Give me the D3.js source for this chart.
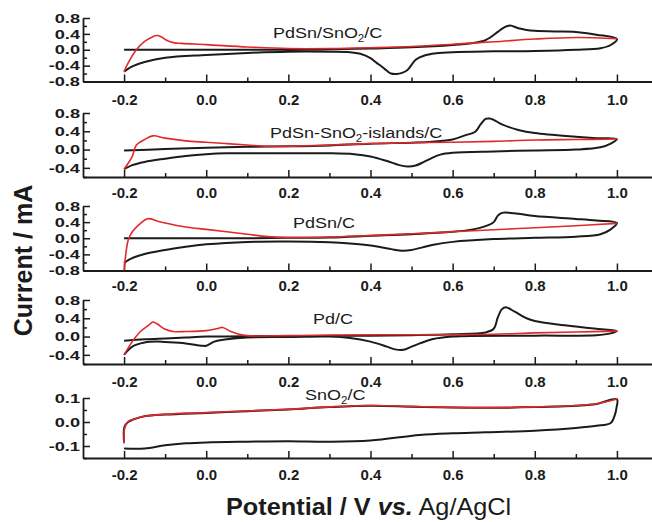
<!DOCTYPE html>
<html>
<head>
<meta charset="utf-8">
<script src="https://cdn.jsdelivr.net/npm/d3@7"></script>
<style>
  body { margin: 0; background: #fff; }
  svg { display: block; }
  text { font-family: "Liberation Sans", Arial, sans-serif; }
</style>
</head>
<body>
<svg id="chart" width="652" height="522"></svg>
<script>
// ---- data (potential V, current mA) ----
const xTicks = [-0.2, 0.0, 0.2, 0.4, 0.6, 0.8, 1.0];
const xMinorTicks = [-0.1, 0.1, 0.3, 0.5, 0.7, 0.9];

const panelLabels = [
  ["PdSn/SnO", "2", "/C"],
  ["PdSn-SnO", "2", "-islands/C"],
  ["PdSn/C"],
  ["Pd/C"],
  ["SnO", "2", "/C"]
];
const yDomains = [[-0.8, 0.8], [-0.6, 0.8], [-0.8, 0.8], [-0.6, 0.8], [-0.15, 0.1]];
const yMajorTicks = [
  [-0.8, -0.4, 0, 0.4, 0.8],
  [-0.4, 0, 0.4, 0.8],
  [-0.8, -0.4, 0, 0.4, 0.8],
  [-0.4, 0, 0.4, 0.8],
  [-0.1, 0, 0.1]
];
const yMinorTicks = [
  [-0.6, -0.2, 0.2, 0.6],
  [-0.6, -0.2, 0.2, 0.6],
  [-0.6, -0.2, 0.2, 0.6],
  [-0.6, -0.2, 0.2, 0.6],
  [-0.15, -0.05, 0.05]
];

const pdsnSno2Black = [
  [-0.2, 0.0], [-0.1, 0.0], [0.0, 0.0], [0.1, 0.0], [0.2, 0.0], [0.3, 0.01], [0.4, 0.03], [0.5, 0.06],
  [0.6, 0.12], [0.65, 0.17], [0.675, 0.22], [0.69, 0.3], [0.71, 0.45], [0.725, 0.56], [0.74, 0.61],
  [0.76, 0.54], [0.78, 0.5], [0.8, 0.48], [0.85, 0.46], [0.9, 0.45], [0.95, 0.38], [1.0, 0.27],
  [0.985, 0.12], [0.96, 0.04], [0.9, 0.0], [0.8, -0.03], [0.7, -0.04], [0.6, -0.06], [0.56, -0.09],
  [0.53, -0.15], [0.51, -0.25], [0.5, -0.38], [0.49, -0.51], [0.475, -0.59], [0.464, -0.61], [0.45, -0.6],
  [0.44, -0.53], [0.427, -0.42], [0.415, -0.33], [0.4, -0.21], [0.375, -0.1], [0.35, -0.06], [0.3, -0.05],
  [0.2, -0.05], [0.1, -0.08], [0.0, -0.13], [-0.1, -0.2], [-0.15, -0.31], [-0.18, -0.42], [-0.2, -0.55]
];
const pdsnSno2Red = [
  [-0.2, -0.55], [-0.19, -0.33], [-0.17, 0.0], [-0.15, 0.21], [-0.13, 0.33], [-0.12, 0.36], [-0.11, 0.33],
  [-0.1, 0.26], [-0.08, 0.18], [-0.06, 0.16], [0.0, 0.13], [0.1, 0.07], [0.2, 0.03], [0.3, 0.03],
  [0.4, 0.05], [0.5, 0.08], [0.6, 0.14], [0.7, 0.2], [0.8, 0.27], [0.9, 0.31], [1.0, 0.28]
];

const islandsBlack = [
  [-0.2, -0.02], [-0.1, 0.01], [0.0, 0.04], [0.1, 0.06], [0.2, 0.07], [0.3, 0.09], [0.4, 0.13], [0.5, 0.15],
  [0.55, 0.17], [0.6, 0.22], [0.63, 0.31], [0.655, 0.39], [0.668, 0.55], [0.68, 0.67], [0.69, 0.68],
  [0.7, 0.65], [0.72, 0.55], [0.76, 0.43], [0.8, 0.36], [0.9, 0.28], [0.95, 0.25], [1.0, 0.23],
  [0.985, 0.13], [0.96, 0.05], [0.9, 0.0], [0.8, -0.02], [0.7, -0.04], [0.6, -0.07], [0.57, -0.11],
  [0.55, -0.18], [0.53, -0.27], [0.51, -0.35], [0.49, -0.37], [0.47, -0.34], [0.44, -0.25], [0.4, -0.15],
  [0.36, -0.1], [0.3, -0.08], [0.2, -0.08], [0.1, -0.08], [0.05, -0.08], [0.0, -0.1], [-0.05, -0.14],
  [-0.1, -0.2], [-0.15, -0.27], [-0.18, -0.34], [-0.2, -0.43]
];
const islandsRed = [
  [-0.2, -0.43], [-0.19, -0.3], [-0.18, -0.15], [-0.17, 0.1], [-0.15, 0.22], [-0.13, 0.3], [-0.1, 0.25],
  [-0.05, 0.19], [0.0, 0.16], [0.05, 0.13], [0.1, 0.1], [0.15, 0.07], [0.2, 0.07], [0.3, 0.1], [0.4, 0.13],
  [0.5, 0.15], [0.6, 0.16], [0.7, 0.18], [0.8, 0.21], [0.9, 0.22], [1.0, 0.23]
];

const pdsnBlack = [
  [-0.2, 0.0], [-0.1, 0.0], [0.0, 0.0], [0.1, 0.0], [0.2, 0.01], [0.3, 0.02], [0.4, 0.06], [0.5, 0.1],
  [0.6, 0.16], [0.65, 0.22], [0.68, 0.3], [0.7, 0.4], [0.71, 0.56], [0.72, 0.63], [0.75, 0.62], [0.8, 0.55],
  [0.9, 0.48], [0.95, 0.44], [1.0, 0.38],
  [0.985, 0.22], [0.96, 0.1], [0.9, 0.04], [0.8, 0.01], [0.7, -0.02], [0.6, -0.09], [0.55, -0.17],
  [0.5, -0.29], [0.48, -0.31], [0.45, -0.27], [0.4, -0.18], [0.35, -0.13], [0.3, -0.1], [0.2, -0.08],
  [0.1, -0.09], [0.0, -0.15], [-0.05, -0.21], [-0.1, -0.29], [-0.15, -0.39], [-0.19, -0.54], [-0.2, -0.62]
];
const pdsnRed = [
  [-0.2, -0.8], [-0.197, -0.5], [-0.194, -0.25], [-0.19, -0.05], [-0.18, 0.16], [-0.16, 0.37],
  [-0.145, 0.48], [-0.135, 0.48], [-0.12, 0.43], [-0.1, 0.38], [-0.05, 0.28], [0.0, 0.22], [0.05, 0.16],
  [0.1, 0.1], [0.15, 0.04], [0.2, 0.02], [0.3, 0.03], [0.4, 0.07], [0.5, 0.11], [0.6, 0.16], [0.7, 0.21],
  [0.8, 0.26], [0.9, 0.31], [1.0, 0.37]
];

const pdBlack = [
  [-0.2, -0.09], [-0.15, -0.06], [-0.1, -0.04], [-0.05, -0.02], [0.0, 0.0], [0.1, 0.01], [0.2, 0.01],
  [0.3, 0.01], [0.4, 0.02], [0.5, 0.03], [0.6, 0.05], [0.68, 0.09], [0.7, 0.17], [0.71, 0.42], [0.72, 0.6],
  [0.73, 0.64], [0.75, 0.55], [0.78, 0.4], [0.8, 0.34], [0.85, 0.27], [0.9, 0.22], [0.95, 0.17], [1.0, 0.12],
  [0.985, 0.07], [0.95, 0.03], [0.8, 0.02], [0.6, 0.0], [0.55, -0.06], [0.52, -0.15], [0.5, -0.22],
  [0.48, -0.29], [0.46, -0.28], [0.44, -0.22], [0.4, -0.11], [0.35, -0.03], [0.3, 0.0], [0.2, -0.01],
  [0.1, -0.02], [0.05, -0.06], [0.02, -0.11], [0.0, -0.2], [-0.01, -0.2], [-0.05, -0.15], [-0.1, -0.12],
  [-0.12, -0.11], [-0.15, -0.13], [-0.18, -0.22], [-0.2, -0.4]
];
const pdRed = [
  [-0.2, -0.4], [-0.18, -0.11], [-0.16, 0.11], [-0.14, 0.25], [-0.13, 0.32], [-0.12, 0.28], [-0.1, 0.16],
  [-0.08, 0.11], [-0.05, 0.11], [0.0, 0.13], [0.03, 0.18], [0.04, 0.2], [0.06, 0.11], [0.08, 0.05],
  [0.1, 0.02], [0.2, 0.02], [0.3, 0.035], [0.5, 0.04], [0.7, 0.05], [0.8, 0.08], [0.9, 0.1], [1.0, 0.12]
];

const sno2Black = [
  [-0.2, -0.085], [-0.199, -0.02], [-0.19, 0.0], [-0.17, 0.015], [-0.15, 0.024], [-0.1, 0.031], [0.0, 0.038],
  [0.1, 0.045], [0.2, 0.052], [0.3, 0.062], [0.4, 0.068], [0.5, 0.064], [0.6, 0.06], [0.7, 0.059],
  [0.8, 0.062], [0.9, 0.068], [0.95, 0.075], [1.0, 0.095],
  [0.999, 0.06], [0.995, 0.03], [0.985, -0.004], [0.95, -0.016], [0.9, -0.025], [0.8, -0.036], [0.68, -0.043],
  [0.6, -0.047], [0.52, -0.054], [0.4, -0.077], [0.3, -0.082], [0.2, -0.08], [0.1, -0.082], [0.0, -0.085],
  [-0.05, -0.089], [-0.1, -0.097], [-0.15, -0.11], [-0.2, -0.11]
];
const sno2Red = [
  [-0.2, -0.09], [-0.199, -0.03], [-0.195, -0.01], [-0.19, 0.002], [-0.17, 0.015], [-0.15, 0.024],
  [-0.1, 0.032], [0.0, 0.039], [0.1, 0.046], [0.2, 0.053], [0.3, 0.063], [0.4, 0.069], [0.5, 0.065],
  [0.6, 0.061], [0.7, 0.06], [0.8, 0.063], [0.9, 0.069], [0.95, 0.076], [1.0, 0.096]
];

const blackCurves = [pdsnSno2Black, islandsBlack, pdsnBlack, pdBlack, sno2Black];
const redCurves = [pdsnSno2Red, islandsRed, pdsnRed, pdRed, sno2Red];

// ---- layout ----
const panelBox = [
  { bottom: 81.5, top: 18, gap: 12.5, labelX: 273, labelY: 37.7 },
  { bottom: 177, top: 113, gap: 10, labelX: 270, labelY: 138.3 },
  { bottom: 270.5, top: 206, gap: 9.5, labelX: 293, labelY: 228.3 },
  { bottom: 364, top: 300, gap: 12, labelX: 313, labelY: 324 },
  { bottom: 458, top: 398, gap: 11, labelX: 305, labelY: 400 }
];
const ink = "#1b1b1b";
const red = "#e2282c";
const font = '"Liberation Sans", Arial, sans-serif';

const svg = d3.select("#chart");
svg.append("rect").attr("width", 652).attr("height", 522).attr("fill", "#fff");

const x = d3.scaleLinear().domain([-0.3, 1.1]).range([83, 658]);
const fmt = d => d.toFixed(1);

panelBox.forEach((box, k) => {
  const y = d3.scaleLinear().domain(yDomains[k]).range([box.bottom, box.top]);
  const g = svg.append("g");

  // bottom axis, ticks pointing inward
  g.append("g")
    .attr("transform", `translate(0,${box.bottom})`)
    .attr("color", ink)
    .call(d3.axisBottom(x).tickValues(xTicks).tickFormat(fmt)
      .tickSize(-7).tickSizeOuter(0).tickPadding(box.gap))
    .call(a => a.select(".domain").attr("stroke-width", 1.8))
    .call(a => a.selectAll(".tick line").attr("stroke-width", 1.5))
    .call(a => a.selectAll(".tick text")
      .attr("font-size", 15).attr("font-weight", "bold").attr("font-family", font));

  g.append("g")
    .attr("transform", `translate(0,${box.bottom})`)
    .attr("color", ink)
    .call(d3.axisBottom(x).tickValues(xMinorTicks).tickFormat("")
      .tickSize(-4).tickSizeOuter(0))
    .call(a => a.select(".domain").remove())
    .call(a => a.selectAll(".tick line").attr("stroke-width", 1.5));

  // left axis
  g.append("g")
    .attr("transform", `translate(${x(-0.3)},0)`)
    .attr("color", ink)
    .call(d3.axisLeft(y).tickValues(yMajorTicks[k]).tickFormat(fmt)
      .tickSize(-7).tickSizeOuter(0))
    .call(a => a.select(".domain").attr("stroke-width", 1.8))
    .call(a => a.selectAll(".tick line").attr("stroke-width", 1.5))
    .call(a => a.selectAll(".tick text")
      .attr("x", 0)
      .attr("transform", "translate(-3,0) scale(1.4,1)")
      .attr("font-size", 13).attr("font-weight", "bold").attr("font-family", font));

  g.append("g")
    .attr("transform", `translate(${x(-0.3)},0)`)
    .attr("color", ink)
    .call(d3.axisLeft(y).tickValues(yMinorTicks[k]).tickFormat("")
      .tickSize(-4).tickSizeOuter(0))
    .call(a => a.select(".domain").remove())
    .call(a => a.selectAll(".tick line").attr("stroke-width", 1.5));

  // curves
  const line = d3.line()
    .x(d => x(d[0]))
    .y(d => y(d[1]))
    .curve(d3.curveCatmullRom.alpha(0.5));

  g.append("path").datum(blackCurves[k])
    .attr("d", line).attr("fill", "none")
    .attr("stroke", ink).attr("stroke-width", 2).attr("stroke-linejoin", "round");
  g.append("path").datum(redCurves[k])
    .attr("d", line).attr("fill", "none")
    .attr("stroke", red).attr("stroke-width", 1.6).attr("stroke-linejoin", "round");

  // panel label with subscript
  const t = g.append("text")
    .attr("transform", `translate(${box.labelX},${box.labelY}) scale(1.16,1)`)
    .attr("font-size", 15.5).attr("fill", ink);
  panelLabels[k].forEach((part, i) => {
    const sp = t.append("tspan").text(part);
    if (i % 2 === 1) sp.attr("font-size", 10).attr("dy", 4);
    else if (i > 0) sp.attr("dy", -4);
  });
});

// axis titles
svg.append("text")
  .attr("transform", "translate(32,260.5) rotate(-90)")
  .attr("text-anchor", "middle")
  .attr("font-size", 25).attr("font-weight", "bold").attr("fill", ink)
  .text("Current / mA");

const xt = svg.append("text")
  .attr("transform", "translate(226,515) scale(1.1,1)")
  .attr("font-size", 23).attr("fill", ink)
  .style("white-space", "pre");
xt.append("tspan").attr("font-weight", "bold").text("Potential / V ");
xt.append("tspan").attr("font-weight", "bold").attr("font-style", "italic").text("vs.");
xt.append("tspan").text(" Ag/AgCl");
</script>
</body>
</html>
